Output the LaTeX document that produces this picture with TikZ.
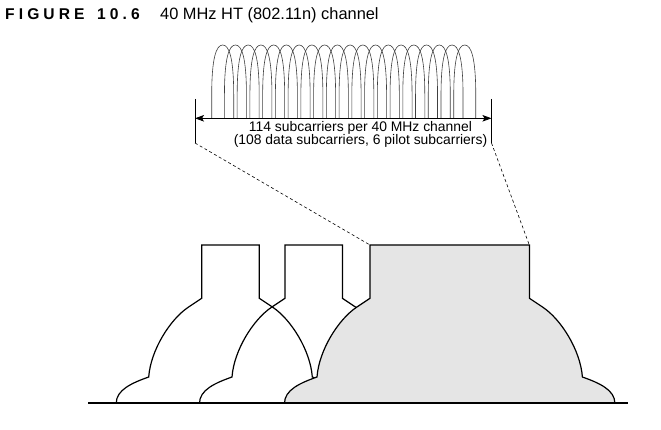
\documentclass[tikz,border=0pt]{standalone}
\usepackage{fontspec}
\setmainfont{Liberation Sans}
\usetikzlibrary{arrows.meta}
\definecolor{maskgray}{HTML}{E5E5E5}
\newcommand\mymask[3]{%
  \draw[#1] ({#2-#3-85.5},403.3) .. controls ({#2-#3-85.5},390) and ({#2-#3-70},383) .. ({#2-#3-53},377)
    .. controls ({#2-#3-51},350) and ({#2-#3-31.5},319.3) .. ({#2-#3-13.5},307.3)
    -- ({#2-#3},298.3) -- ({#2-#3},245) -- ({#2+#3},245) -- ({#2+#3},298.3) -- ({#2+#3+13.5},307.3)
    .. controls ({#2+#3+31.5},319.3) and ({#2+#3+51},350) .. ({#2+#3+53},377)
    .. controls ({#2+#3+70},383) and ({#2+#3+85.5},390) .. ({#2+#3+85.5},403.3);}
\tikzset{
  maskline/.style={line width=1.2pt, line join=miter, black},
  lobe/.style={line width=0.6pt, black!75},
  tickline/.style={line width=0.8pt},
  dashline/.style={line width=0.6pt, dash pattern=on 3pt off 2.5pt},
  lbl/.style={inner sep=0, anchor=base, font=\fontsize{13.9}{15}\selectfont},
}
\begin{document}
\begin{tikzpicture}[x=1pt, y=-1pt]
\useasboundingbox (0,0) rectangle (661,430);
\fill[white] (0,0) rectangle (661,430);
% title
\node[inner sep=0, anchor=base west, font=\fontsize{15.6}{16}\selectfont\bfseries] (fig) at (5,19.3)
  {F\kern4.1pt I\kern4.1pt G\kern4.1pt U\kern4.1pt R\kern4.1pt E\kern4.1pt\ \kern4.1pt 1\kern4.1pt 0\kern4.1pt .\kern4.1pt 6};
\node[inner sep=0, anchor=base west, font=\fontsize{16.4}{17}\selectfont] (ttl) at (160,19.3) {40 MHz HT (802.11n) channel};
% subcarrier lobes
\foreach \i in {0,...,19}{
  \pgfmathsetmacro\cx{222.7+\i*12.74}
  \draw[lobe] ({\cx-11},118.3) -- ({\cx-11},95) .. controls ({\cx-11},58) and ({\cx-6.5},45) .. (\cx,45)
     .. controls ({\cx+6.5},45) and ({\cx+11},58) .. ({\cx+11},95) -- ({\cx+11},118.3);
}
% ticks and arrow
\coordinate (lt) at (195,99);
\coordinate (lb) at (195,143);
\coordinate (rt) at (491.5,99);
\coordinate (rb) at (491.5,143);
\coordinate (la) at (195,118.3);
\coordinate (ra) at (491.5,118.3);
\draw[tickline] (lt) -- (lb);
\draw[tickline] (rt) -- (rb);
\draw[line width=0.9pt, {Stealth[length=9pt,width=6.5pt,inset=2pt]}-{Stealth[length=9pt,width=6.5pt,inset=2pt]}] (la) -- (ra);
\node[lbl] (l1) at (360.5,132) {114 subcarriers per 40 MHz channel};
\node[lbl] (l2) at (360.5,145) {(108 data subcarriers, 6 pilot subcarriers)};
% masks
\mymask{maskline}{230.5}{28.8}
\mymask{maskline}{313.7}{28.7}
\mymask{maskline, fill=maskgray}{449.7}{79.7}
\coordinate (m3l) at (370,245);
\coordinate (m3r) at (529.3,245);
\draw[dashline] (lb) -- (m3l);
\draw[dashline] (rb) -- (m3r);
% baseline
\coordinate (b0) at (88,403.3);
\coordinate (b1) at (628,403.3);
\draw[line width=1.7pt] (b0) -- (b1);
\end{tikzpicture}
\end{document}
